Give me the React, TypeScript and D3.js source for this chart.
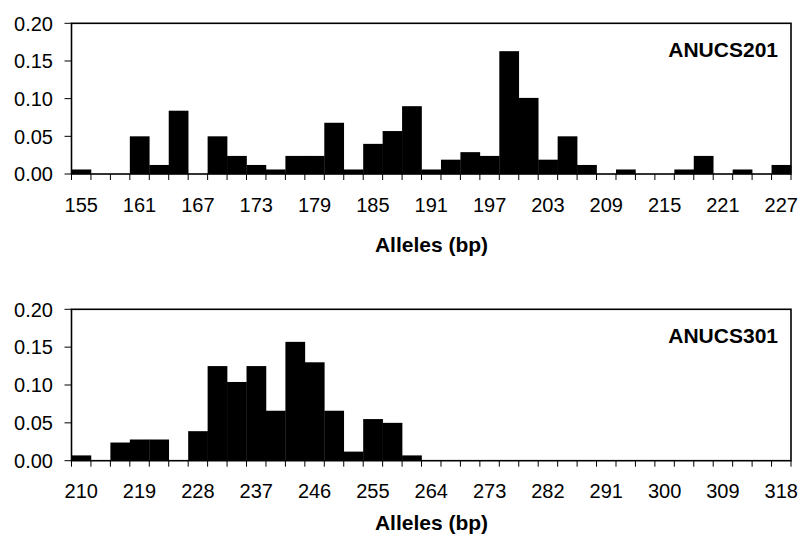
import React from "react";
import * as d3 from "d3";

const topAlleles = [155,157,159,161,163,165,167,169,171,173,175,177,179,181,183,185,187,189,191,193,195,197,199,201,203,205,207,209,211,213,215,217,219,221,223,225,227];
const topFreq = [0.006,0,0,0.05,0.012,0.084,0,0.05,0.024,0.012,0.006,0.024,0.024,0.068,0.006,0.04,0.057,0.09,0.006,0.019,0.029,0.024,0.163,0.101,0.019,0.05,0.012,0,0.006,0,0,0.006,0.024,0,0.006,0,0.012];
const topLabels = [155,161,167,173,179,185,191,197,203,209,215,221,227];

const botAlleles = [210,213,216,219,222,225,228,231,234,237,240,243,246,249,252,255,258,261,264,267,270,273,276,279,282,285,288,291,294,297,300,303,306,309,312,315,318];
const botFreq = [0.007,0,0.024,0.028,0.028,0,0.039,0.125,0.104,0.125,0.066,0.157,0.13,0.066,0.012,0.055,0.05,0.007,0,0,0,0,0,0,0,0,0,0,0,0,0,0,0,0,0,0,0];
const botLabels = [210,219,228,237,246,255,264,273,282,291,300,309,318];

const yTicks = [0, 0.05, 0.1, 0.15, 0.2];

const FONT = "'Liberation Sans', Arial, Helvetica, sans-serif";

function Panel({ alleles, freq, labels, name, top, bottom, titleY, axisTitleY }: any) {
  const left = 71.5;
  const right = 791;
  const x = d3.scaleBand<number>().domain(alleles).range([left, right]).padding(0);
  const y = d3.scaleLinear().domain([0, 0.2]).range([bottom, top]);
  const bw = x.bandwidth();
  const edges = alleles.map((a: number) => x(a) as number).concat([right]);
  const fmt = d3.format(".2f");
  return (
    <g>
      {alleles.map((a: number, i: number) =>
        freq[i] > 0 ? (
          <rect key={a} x={x(a)} y={y(freq[i])} width={bw + 0.3} height={bottom - y(freq[i])} fill="#000" />
        ) : null
      )}
      {edges.map((e: number, i: number) => (
        <line key={"xt" + i} x1={e} x2={e} y1={bottom} y2={bottom + 6} stroke="#000" strokeWidth={1} />
      ))}
      {yTicks.map((t) => (
        <g key={"yt" + t}>
          <line x1={left - 7} x2={left} y1={y(t)} y2={y(t)} stroke="#000" strokeWidth={1} />
          <text x={53} y={y(t)} dy="0.36em" textAnchor="end" fontSize={20} fontFamily={FONT} fill="#000">
            {fmt(t)}
          </text>
        </g>
      ))}
      <rect x={left} y={top} width={right - left} height={bottom - top} fill="none" stroke="#000" strokeWidth={1.6} />
      {labels.map((l: number) => (
        <text key={"xl" + l} x={(x(l) as number) + bw / 2} y={bottom + 37.5} textAnchor="middle" fontSize={20} fontFamily={FONT} fill="#000">
          {l}
        </text>
      ))}
      <text x={778} y={titleY} textAnchor="end" fontSize={21} fontWeight="bold" fontFamily={FONT} fill="#000">
        {name}
      </text>
      <text x={431.5} y={axisTitleY} textAnchor="middle" fontSize={21} fontWeight="bold" fontFamily={FONT} fill="#000">
        Alleles (bp)
      </text>
    </g>
  );
}

export default function App() {
  return (
    <div style={{ position: "absolute", left: 0, top: 0, width: 802, height: 538, background: "#fff" }}>
      <svg width={802} height={538} style={{ display: "block" }}>
        <rect width={802} height={538} fill="#fff" />
        <Panel alleles={topAlleles} freq={topFreq} labels={topLabels} name="ANUCS201" top={23.3} bottom={174} titleY={57.3} axisTitleY={251.5} />
        <Panel alleles={botAlleles} freq={botFreq} labels={botLabels} name="ANUCS301" top={309.3} bottom={460.7} titleY={342.7} axisTitleY={529.5} />
      </svg>
    </div>
  );
}
